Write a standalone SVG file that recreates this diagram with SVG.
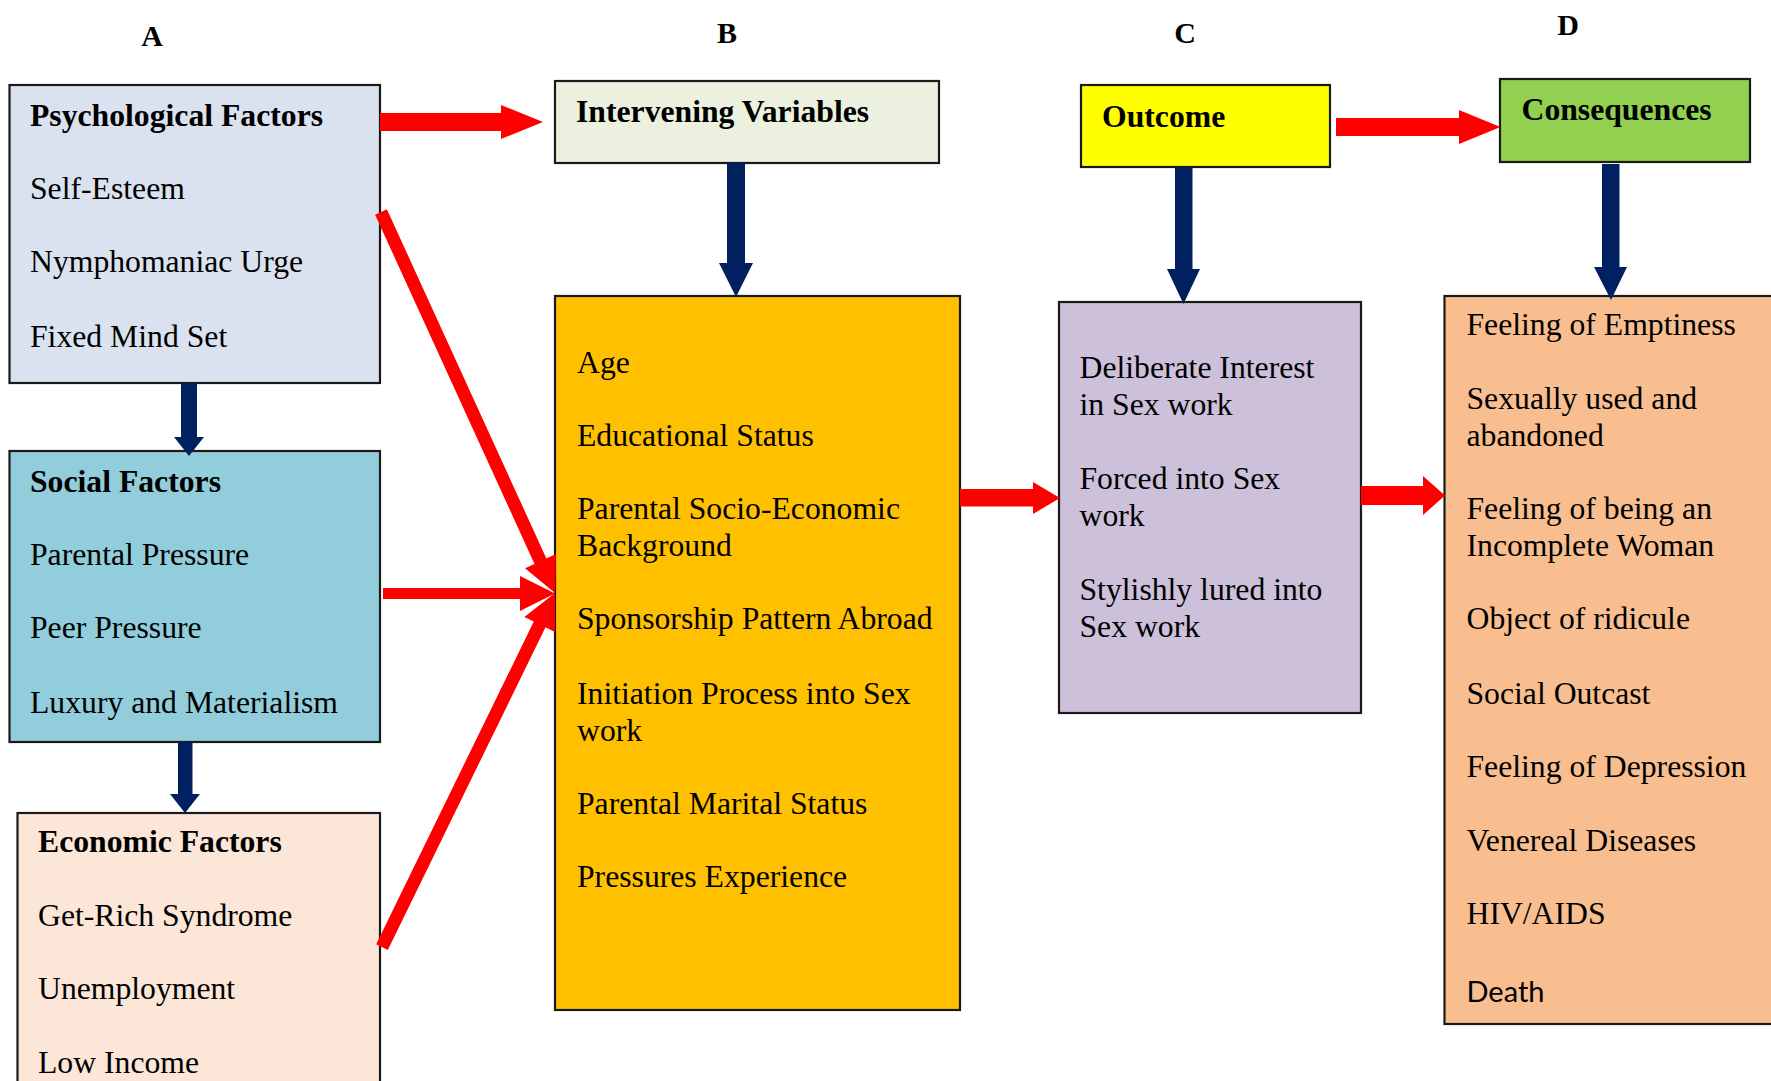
<svg xmlns="http://www.w3.org/2000/svg" width="1771" height="1081" viewBox="0 0 1771 1081">
<style>
text{font-family:"Liberation Serif","Times New Roman",serif;font-size:31.7px;fill:#000}
.t{font-weight:bold}
.lbl{font-weight:bold;font-size:30px;text-anchor:middle}
.box{stroke:#1a1a1a;stroke-width:2.2}
.red{fill:#ff0000}
.navy{fill:#002060}
.sans{font-family:Lato,"Liberation Sans",sans-serif;font-size:29px}
</style>
<rect width="1771" height="1081" fill="#ffffff"/>
<g id="labels">
<text class="lbl" x="152" y="46">A</text>
<text class="lbl" x="727" y="43">B</text>
<text class="lbl" x="1185" y="43">C</text>
<text class="lbl" x="1568" y="35">D</text>
</g>
<g id="psychological">
<rect class="box" x="9.5" y="85" width="370.5" height="298" fill="#dae2f0"/>
<text class="t" x="30" y="126">Psychological Factors</text>
<text x="30" y="199">Self-Esteem</text>
<text x="30" y="272">Nymphomaniac Urge</text>
<text x="30" y="347">Fixed Mind Set</text>
</g>
<g id="social">
<rect class="box" x="9.5" y="451" width="370.5" height="291" fill="#92cddc"/>
<text class="t" x="30" y="492">Social Factors</text>
<text x="30" y="565">Parental Pressure</text>
<text x="30" y="638">Peer Pressure</text>
<text x="30" y="713">Luxury and Materialism</text>
</g>
<g id="economic">
<rect class="box" x="17.5" y="813" width="362.5" height="290" fill="#fbe6d8"/>
<text class="t" x="38" y="852">Economic Factors</text>
<text x="38" y="926">Get-Rich Syndrome</text>
<text x="38" y="999">Unemployment</text>
<text x="38" y="1073">Low Income</text>
</g>
<g id="intervening">
<rect class="box" x="555" y="81" width="384" height="82" fill="#ebf1de"/>
<text class="t" x="576" y="122">Intervening Variables</text>
</g>
<g id="variables">
<rect class="box" x="555" y="296" width="405" height="714" fill="#ffc000"/>
<text x="577" y="373">Age</text>
<text x="577" y="446">Educational Status</text>
<text x="577" y="519">Parental Socio-Economic</text>
<text x="577" y="556">Background</text>
<text x="577" y="629">Sponsorship Pattern Abroad</text>
<text x="577" y="704">Initiation Process into Sex</text>
<text x="577" y="741">work</text>
<text x="577" y="814">Parental Marital Status</text>
<text x="577" y="887">Pressures Experience</text>
</g>
<g id="outcome">
<rect class="box" x="1081" y="85" width="249" height="82" fill="#ffff00"/>
<text class="t" x="1102" y="127">Outcome</text>
</g>
<g id="outcomes">
<rect class="box" x="1059" y="302" width="302" height="411" fill="#ccc0da"/>
<text x="1079.5" y="378">Deliberate Interest</text>
<text x="1079.5" y="415">in Sex work</text>
<text x="1079.5" y="489">Forced into Sex</text>
<text x="1079.5" y="526">work</text>
<text x="1079.5" y="600">Stylishly lured into</text>
<text x="1079.5" y="637">Sex work</text>
</g>
<g id="consequences">
<rect class="box" x="1500" y="79" width="250" height="83" fill="#92d050"/>
<text class="t" x="1521.5" y="120">Consequences</text>
</g>
<g id="consequence-list">
<rect class="box" x="1444.5" y="296" width="340" height="728" fill="#f8be8f"/>
<text x="1466.5" y="335">Feeling of Emptiness</text>
<text x="1466.5" y="409">Sexually used and</text>
<text x="1466.5" y="446">abandoned</text>
<text x="1466.5" y="519">Feeling of being an</text>
<text x="1466.5" y="556">Incomplete Woman</text>
<text x="1466.5" y="629">Object of ridicule</text>
<text x="1466.5" y="704">Social Outcast</text>
<text x="1466.5" y="777">Feeling of Depression</text>
<text x="1466.5" y="851">Venereal Diseases</text>
<text x="1466.5" y="924">HIV/AIDS</text>
<text class="sans" x="1466.5" y="1002">Death</text>
</g>
<g id="connectors">
<polygon class="red" points="380,113 501,113 501,105 543,122 501,139 501,131 380,131"/>
<polygon class="red" points="383,588 520,588 520,576 555,593.5 520,611 520,599 383,599"/>
<polygon class="red" points="386.9,209.3 546.4,558.5 555.9,554.1 555,593 525,568.2 534.5,563.9 375.1,214.7"/>
<polygon class="red" points="376.2,944.2 533.8,621.6 524.4,617 555,593 554.9,631.9 545.5,627.3 387.8,949.9"/>
<polygon class="red" points="960,489 1033,489 1033,482 1060,498 1033,514 1033,506.5 960,506.5"/>
<polygon class="red" points="1336,118 1459,118 1459,110 1500.5,127 1459,144 1459,136 1336,136"/>
<polygon class="red" points="1361,486 1423,486 1423,476 1445,495.5 1423,515 1423,505 1361,505"/>
<polygon class="navy" points="181,383 197,383 197,437 204,437 189,456 174,437 181,437"/>
<polygon class="navy" points="178,742 192.5,742 192.5,794 200,794 185,813 170,794 178,794"/>
<polygon class="navy" points="727,163 745,163 745,263 753,263 736,297 719,263 727,263"/>
<polygon class="navy" points="1175,167 1192.5,167 1192.5,269 1200,269 1183.5,304 1167,269 1175,269"/>
<polygon class="navy" points="1602,164 1619.5,164 1619.5,267 1627,267 1611,300 1594,267 1602,267"/>
</g>
</svg>
